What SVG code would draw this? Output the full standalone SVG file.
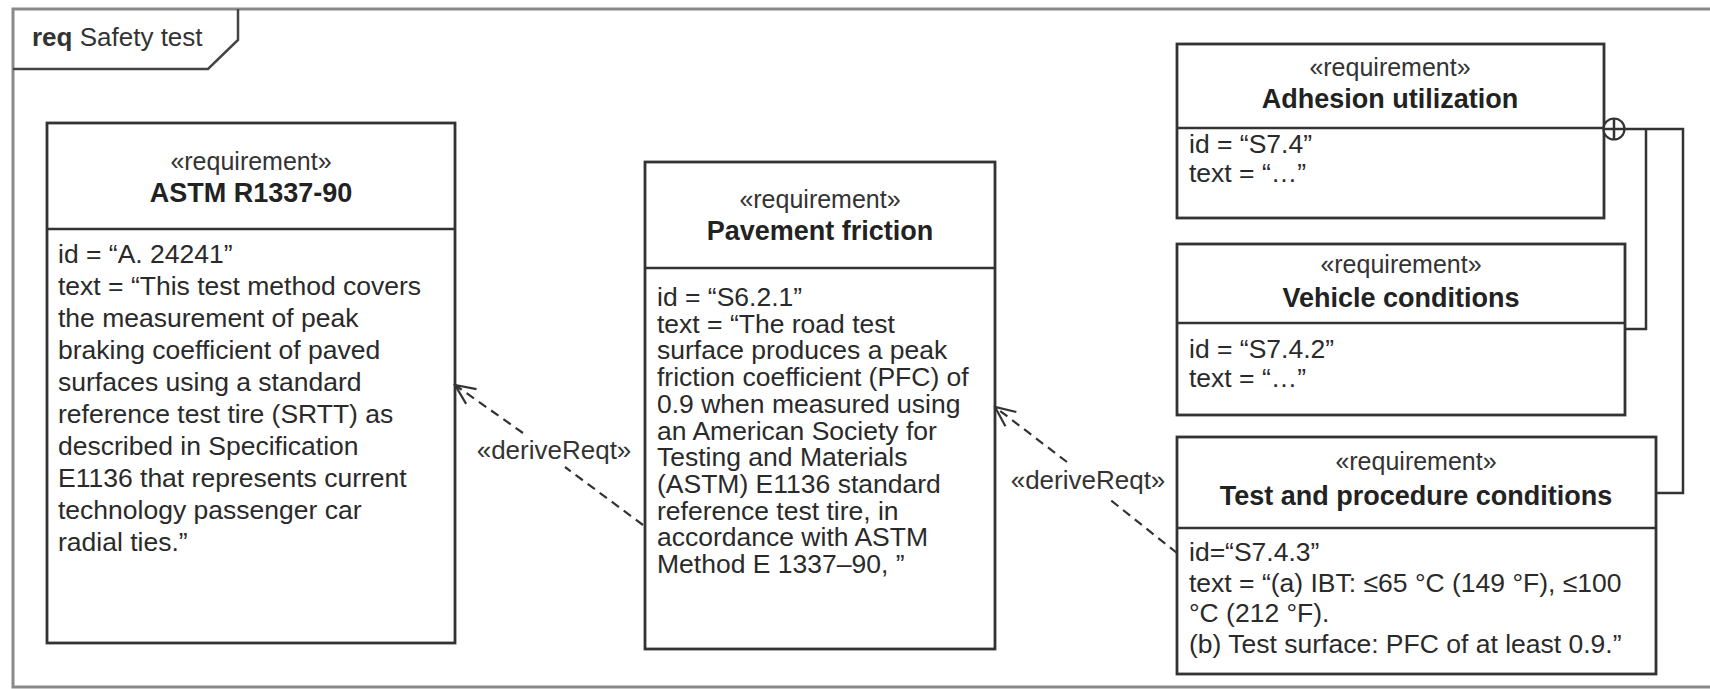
<svg xmlns="http://www.w3.org/2000/svg" width="1710" height="689" viewBox="0 0 1710 689">
<defs>
<style>
.frame{fill:#fff;stroke:#8a8a8a;stroke-width:3}
.tab{fill:none;stroke:#444;stroke-width:2.5}
.box{fill:#fff;stroke:#333;stroke-width:2.8}
.div{stroke:#333;stroke-width:2.5}
.st{font-family:"Liberation Sans",Arial,sans-serif;font-size:25px;fill:#333;text-anchor:middle}
.ti{font-family:"Liberation Sans",Arial,sans-serif;font-size:27px;font-weight:bold;fill:#222;text-anchor:middle}
.bd{font-family:"Liberation Sans",Arial,sans-serif;font-size:26.5px;fill:#2a2a2a}
.lbl{font-family:"Liberation Sans",Arial,sans-serif;font-size:26px;fill:#333;text-anchor:middle}
.dep{fill:none;stroke:#333;stroke-width:2.2;stroke-dasharray:9 6}
.con{fill:none;stroke:#333;stroke-width:2.5}
</style>
<marker id="open" viewBox="-22 -11 24 22" markerWidth="24" markerHeight="22" markerUnits="userSpaceOnUse" refX="0" refY="0" orient="auto">
<path d="M-20,-9 L0,0 L-20,9" fill="none" stroke="#333" stroke-width="2.2"/>
</marker>
</defs>

<g id="frame">
<rect class="frame" x="13" y="9" width="1712" height="678"/>
<path class="tab" d="M13,69 H208 L238,40 V9"/>
<text x="32" y="46" font-family="Liberation Sans, Arial, sans-serif" font-size="26" fill="#333"><tspan font-weight="bold">req</tspan> Safety test</text>
</g>

<g id="astm">
<rect class="box" x="47" y="123" width="408" height="520"/>
<line class="div" x1="47" y1="229" x2="455" y2="229"/>
<text class="st" x="251" y="170">«requirement»</text>
<text class="ti" x="251" y="202">ASTM R1337-90</text>
<text class="bd" x="58" y="263">
<tspan x="58" dy="0">id = “A. 24241”</tspan>
<tspan x="58" dy="32">text = “This test method covers</tspan>
<tspan x="58" dy="32">the measurement of peak</tspan>
<tspan x="58" dy="32">braking coefficient of paved</tspan>
<tspan x="58" dy="32">surfaces using a standard</tspan>
<tspan x="58" dy="32">reference test tire (SRTT) as</tspan>
<tspan x="58" dy="32">described in Specification</tspan>
<tspan x="58" dy="32">E1136 that represents current</tspan>
<tspan x="58" dy="32">technology passenger car</tspan>
<tspan x="58" dy="32">radial ties.”</tspan>
</text>
</g>

<g id="pavement">
<rect class="box" x="645" y="162" width="350" height="487"/>
<line class="div" x1="645" y1="268" x2="995" y2="268"/>
<text class="st" x="820" y="208">«requirement»</text>
<text class="ti" x="820" y="240">Pavement friction</text>
<text class="bd" x="657" y="306">
<tspan x="657" dy="0">id = “S6.2.1”</tspan>
<tspan x="657" dy="26.7">text = “The road test</tspan>
<tspan x="657" dy="26.7">surface produces a peak</tspan>
<tspan x="657" dy="26.7">friction coefficient (PFC) of</tspan>
<tspan x="657" dy="26.7">0.9 when measured using</tspan>
<tspan x="657" dy="26.7">an American Society for</tspan>
<tspan x="657" dy="26.7">Testing and Materials</tspan>
<tspan x="657" dy="26.7">(ASTM) E1136 standard</tspan>
<tspan x="657" dy="26.7">reference test tire, in</tspan>
<tspan x="657" dy="26.7">accordance with ASTM</tspan>
<tspan x="657" dy="26.7">Method E 1337–90, ”</tspan>
</text>
</g>

<g id="adhesion">
<rect class="box" x="1177" y="44" width="427" height="174"/>
<line class="div" x1="1177" y1="128" x2="1604" y2="128"/>
<text class="st" x="1390" y="76">«requirement»</text>
<text class="ti" x="1390" y="108">Adhesion utilization</text>
<text class="bd" x="1189" y="153">id = “S7.4”</text>
<text class="bd" x="1189" y="182">text = “…”</text>
</g>

<g id="vehicle">
<rect class="box" x="1177" y="244" width="448" height="171"/>
<line class="div" x1="1177" y1="323" x2="1625" y2="323"/>
<text class="st" x="1401" y="273">«requirement»</text>
<text class="ti" x="1401" y="307">Vehicle conditions</text>
<text class="bd" x="1189" y="358">id = “S7.4.2”</text>
<text class="bd" x="1189" y="387">text = “…”</text>
</g>

<g id="testproc">
<rect class="box" x="1177" y="437" width="479" height="237"/>
<line class="div" x1="1177" y1="528" x2="1656" y2="528"/>
<text class="st" x="1416" y="470">«requirement»</text>
<text class="ti" x="1416" y="505">Test and procedure conditions</text>
<text class="bd" x="1189" y="561">
<tspan x="1189" dy="0">id=“S7.4.3”</tspan>
<tspan x="1189" dy="30.5">text = “(a) IBT: ≤65 °C (149 °F), ≤100</tspan>
<tspan x="1189" dy="30.5">°C (212 °F).</tspan>
<tspan x="1189" dy="30.5">(b) Test surface: PFC of at least 0.9.”</tspan>
</text>
</g>

<g id="connectors">
<path class="dep" d="M643,525 L565,467 M523,433 L455,385" marker-end="url(#open)"/>
<text class="lbl" x="554" y="459">«deriveReqt»</text>
<path class="dep" d="M1177,553 L1108,498 M1067,462 L995,407" marker-end="url(#open)"/>
<text class="lbl" x="1088" y="489">«deriveReqt»</text>
<circle cx="1614" cy="129" r="10.5" fill="#fff" stroke="#333" stroke-width="2.2"/>
<path class="con" d="M1603.5,129 H1624.5 M1614,118.5 V139.5"/>
<path class="con" d="M1624.5,129 H1683 V493 H1656"/>
<path class="con" d="M1646,129 V329 H1625"/>
</g>
</svg>
